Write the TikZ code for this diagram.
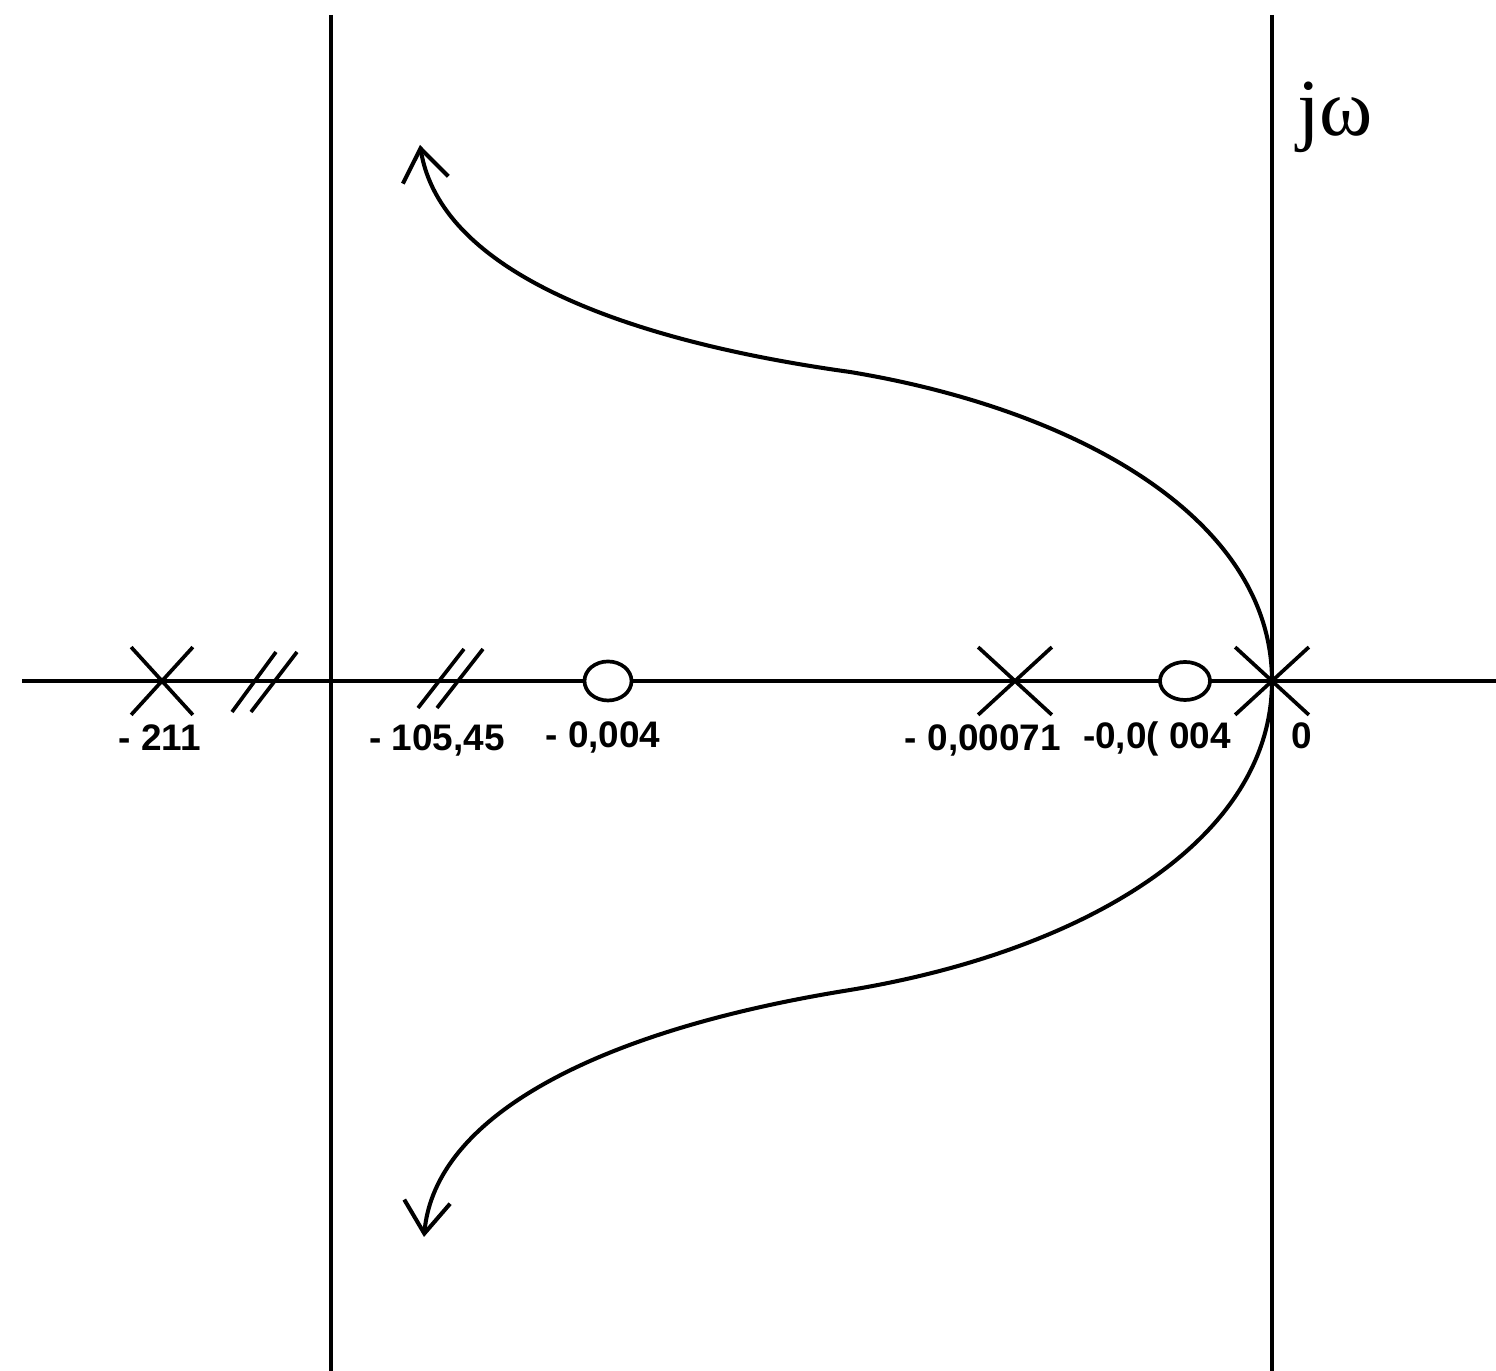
\documentclass[tikz,border=0pt]{standalone}
\usepackage{fontspec}
\setmainfont{Liberation Sans}
\newfontfamily\serifj{Liberation Serif}
\usetikzlibrary{arrows.meta,shapes.geometric,shapes.misc}
\begin{document}
\begin{tikzpicture}[x=0.01cm,y=-0.01cm, line width=1.05pt,
 pole/.style={draw, cross out, inner sep=0pt, minimum width=0.66cm, minimum height=0.64cm, line width=1.05pt},
 zero/.style={draw, ellipse, inner sep=0pt, minimum width=0.47cm, minimum height=0.39cm, fill=white, line width=1.05pt},
 lbl/.style={anchor=base, font=\bfseries\fontsize{10.5}{12}\selectfont, inner sep=0pt},
 brk/.style={line width=1.05pt},
 locus/.style={line width=1.15pt, -{Straight Barb[length=0.32cm,width=0.46cm,line width=1.15pt]}}]
\useasboundingbox (0,0) rectangle (1496,1371);
% axes
\coordinate (hl) at (22,681);
\coordinate (hr) at (1496,681);
\coordinate (vlt) at (331,15);
\coordinate (vlb) at (331,1371);
\coordinate (jt) at (1272,15);
\coordinate (jb) at (1272,1371);
\draw (hl) -- (hr);
\draw (vlt) -- (vlb);
\draw (jt) -- (jb);
\node[font=\serifj\fontsize{23}{26}\selectfont, inner sep=0pt] (jw) at (1335,117) {jω};
% break marks
\draw[brk] (232,712) -- (276,652);
\draw[brk] (251,712) -- (297,652);
\draw[brk] (418,708) -- (464,649);
\draw[brk] (437,708) -- (483,649);
% poles and zeros
\node[pole, minimum width=0.58cm] (p211) at (162,681) {};
\node[pole, minimum width=0.70cm] (p71) at (1015,681) {};
\node[pole, minimum width=0.70cm] (p0) at (1272,681) {};
\node[zero] (z4) at (608,681) {};
\node[zero, minimum width=0.50cm, minimum height=0.38cm] (z04) at (1185,681) {};
% labels
\node[lbl] (l211) at (160,751) {- 211};
\node[lbl] (l105) at (437,751) {- 105,45};
\node[lbl] (l4) at (603,748) {- 0,004};
\node[lbl] (l71) at (983,751) {- 0,00071};
\node[lbl] (l04) at (1157,749) {-0,0( 004};
\node[lbl] (l0) at (1302,749) {0};
% root locus branches
\coordinate (infU) at (850,372);
\coordinate (infL) at (850,990);
\coordinate (tipU) at (420,145);
\coordinate (tipL) at (424,1237);
\draw[locus] (p0.center) .. controls (1272,520) and (1080,410) .. (infU)
  .. controls (620,340) and (440,270) .. (tipU);
\draw[locus] (p0.center) .. controls (1272,842) and (1080,952) .. (infL)
  .. controls (600,1030) and (435,1115) .. (tipL);
\end{tikzpicture}
\end{document}
